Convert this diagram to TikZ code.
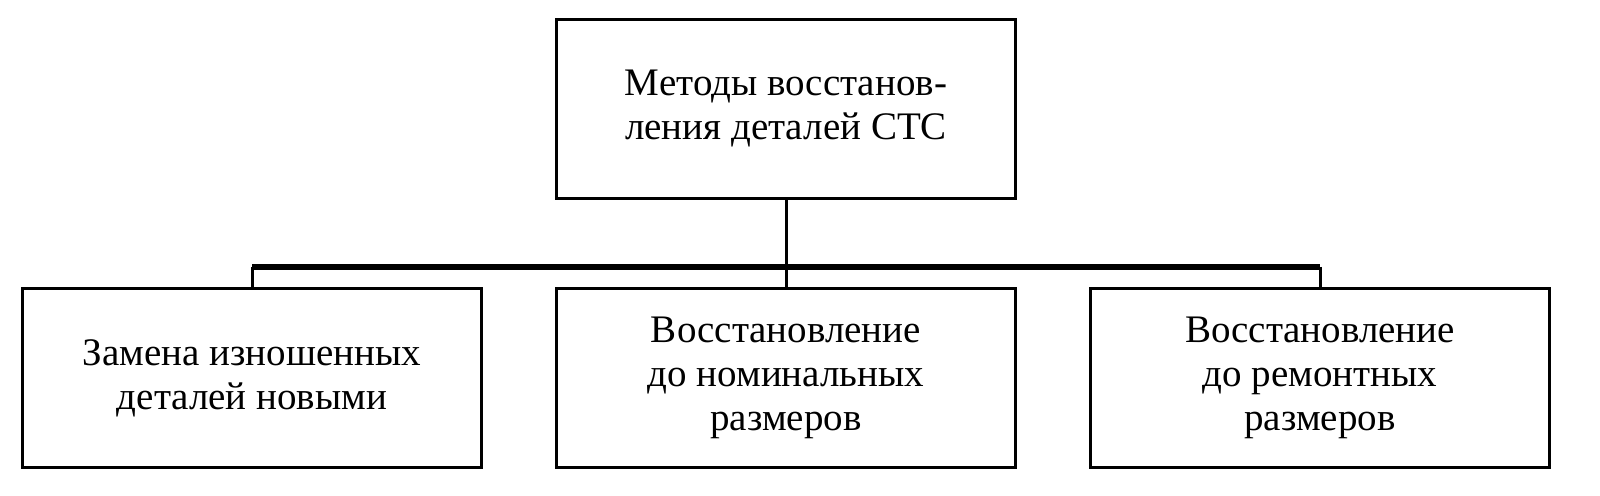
\documentclass[tikz,border=0pt]{standalone}
\usepackage{fontspec}
\setmainfont{Liberation Serif}
\usetikzlibrary{positioning}

\begin{document}
\begin{tikzpicture}[node distance=267pt, on grid,
    box/.style={draw, line width=1.5pt, minimum width=229.5pt, minimum height=89.5pt,
                align=center, font=\fontsize{19.5}{22}\selectfont},
    link/.style={line width=1.5pt},
    bus/.style={line width=3.2pt}]
        \useasboundingbox (0,0) rectangle (800pt,-248pt);
        \node[box] (m1) at (393pt,-54.5pt) {Методы восстанов-\\ления деталей СТС};
        \node[box] (m2) [below=134.5pt of m1] {Восстановление\\до номинальных\\размеров};
        \node[box] (m3) [left=of m2] {Замена изношенных\\деталей новыми};
        \node[box] (m4) [right=of m2] {Восстановление\\до ремонтных\\размеров};

        \coordinate[above=10pt of m2.north] (j2);
        \coordinate (j3) at (m3 |- j2);
        \coordinate (j4) at (m4 |- j2);

        \draw[link] (m1) -- (m2);
        \draw[link] (j3) -- (m3);
        \draw[link] (j4) -- (m4);
        \draw[bus] (j3) -- (j4);
    \end{tikzpicture}
\end{document}
